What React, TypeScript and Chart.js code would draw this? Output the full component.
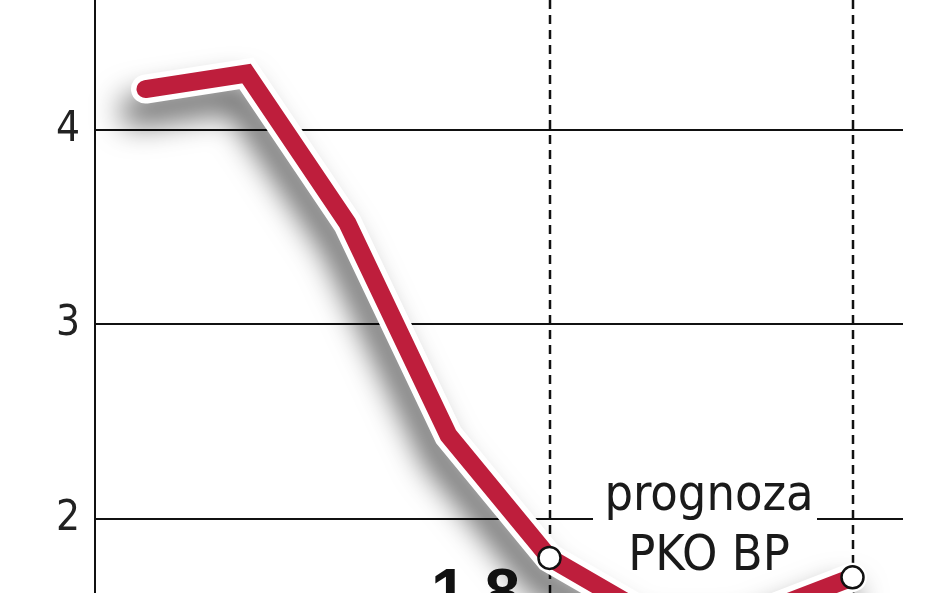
import React, { useEffect, useRef } from 'react';
import Chart from 'chart.js/auto';

// periods on the x axis (not printed on the cropped chart)
const periods = ['2010', '2011', '2012', '2013', '2014', '2015', '2016', '2017'];
// inflation-like series
const values = [4.21, 4.29, 3.52, 2.43, 1.8, 1.5, 1.5, 1.7];
// points marked with an open circle (start and end of the forecast)
const markedPoints = [4, 7];
const yTicks = [2, 3, 4];
const valueLabel = '1,8';
const forecastLabel = ['prognoza', 'PKO BP'];

const RED = '#BE1E3C';
const THIN = "'Liberation Sans Narrow', 'DejaVu Sans Condensed', sans-serif";

const decorPlugin = {
  id: 'decor',
  beforeDatasetsDraw(chart: any) {
    const { ctx, chartArea, scales } = chart;
    const x = scales.x;
    const y = scales.y;
    ctx.save();
    // gap in the "2" gridline for the forecast label
    const y2 = y.getPixelForValue(2);
    ctx.fillStyle = '#fff';
    ctx.fillRect(593, y2 - 3, 817 - 593, 6);
    // dashed lines marking the forecast period
    ctx.strokeStyle = '#111';
    ctx.lineWidth = 2.5;
    ctx.setLineDash([9, 6]);
    [markedPoints[0], markedPoints[markedPoints.length - 1]].forEach((i) => {
      const px = Math.round(x.getPixelForValue(i));
      ctx.beginPath();
      ctx.moveTo(px, chartArea.top);
      ctx.lineTo(px, chartArea.bottom);
      ctx.stroke();
    });
    ctx.setLineDash([]);
    // forecast label
    const cx = (x.getPixelForValue(markedPoints[0]) + x.getPixelForValue(markedPoints[1])) / 2 + 8;
    ctx.fillStyle = '#1a1a1a';
    ctx.textAlign = 'center';
    ctx.textBaseline = 'alphabetic';
    ctx.font = `50px ${THIN}`;
    ctx.fillText(forecastLabel[0], cx, y2 - 9);
    ctx.fillText(forecastLabel[1], cx, y2 + 51);
    ctx.restore();
  },
  beforeDatasetDraw(chart: any, args: any) {
    if (args.index !== 1) return;
    const ctx = chart.ctx;
    ctx.save();
    ctx.shadowColor = 'rgba(0,0,0,0.62)';
    ctx.shadowBlur = 30;
    ctx.shadowOffsetX = -10;
    ctx.shadowOffsetY = 22;
  },
  afterDatasetDraw(chart: any, args: any) {
    if (args.index !== 1) return;
    chart.ctx.restore();
  },
  afterDatasetsDraw(chart: any) {
    const { ctx, scales } = chart;
    const i = markedPoints[0];
    const px = scales.x.getPixelForValue(i);
    const py = scales.y.getPixelForValue(values[i]);
    ctx.save();
    ctx.fillStyle = '#111';
    ctx.font = `bold 64px 'Liberation Sans', Arial, sans-serif`;
    ctx.textAlign = 'center';
    ctx.textBaseline = 'alphabetic';
    ctx.fillText(valueLabel, px - 74, py + 56);
    ctx.restore();
  },
};

export default function App() {
  const canvasRef = useRef<HTMLCanvasElement>(null);
  const chartRef = useRef<Chart | null>(null);

  useEffect(() => {
    document.body.style.margin = '0';
    if (!canvasRef.current) return;
    const ctx = canvasRef.current.getContext('2d');
    if (!ctx) return;

    const marked = (c: any) => markedPoints.includes(c.dataIndex);

    chartRef.current = new Chart(ctx, {
      type: 'line',
      data: {
        labels: periods,
        datasets: [
          {
            data: values,
            borderColor: RED,
            borderWidth: 18,
            borderCapStyle: 'round',
            borderJoinStyle: 'miter',
            tension: 0,
            pointRadius: (c: any) => (marked(c) ? 11 : 0),
            pointBackgroundColor: '#fff',
            pointBorderColor: '#111',
            pointBorderWidth: 2.5,
            clip: false,
          },
          {
            data: values,
            borderColor: '#fff',
            borderWidth: 29,
            borderCapStyle: 'round',
            borderJoinStyle: 'miter',
            tension: 0,
            pointRadius: 0,
            clip: false,
          },
        ],
      },
      options: {
        responsive: false,
        animation: false,
        layout: { autoPadding: false, padding: { left: 0, right: 45, top: 0, bottom: 0 } },
        plugins: {
          legend: { display: false },
          tooltip: { enabled: false },
        },
        scales: {
          x: {
            display: false,
            offset: true,
          },
          y: {
            min: 1.6195,
            max: 4.668,
            afterBuildTicks: (scale: any) => {
              scale.ticks = yTicks.map((v) => ({ value: v }));
            },
            afterFit: (scale: any) => {
              scale.width = 95;
              scale.paddingTop = 0;
              scale.paddingBottom = 0;
            },
            border: { display: true, color: '#111', width: 2 },
            grid: { color: '#111', lineWidth: 2, drawTicks: false },
            ticks: {
              color: '#222',
              padding: 15,
              font: { family: THIN, size: 42 },
            },
          },
        },
      },
      plugins: [decorPlugin],
    });

    return () => {
      if (chartRef.current) {
        chartRef.current.destroy();
        chartRef.current = null;
      }
    };
  }, []);

  return (
    <div style={{ width: 948, height: 593, background: '#fff' }}>
      <canvas ref={canvasRef} width={948} height={593} style={{ display: 'block' }}></canvas>
    </div>
  );
}
